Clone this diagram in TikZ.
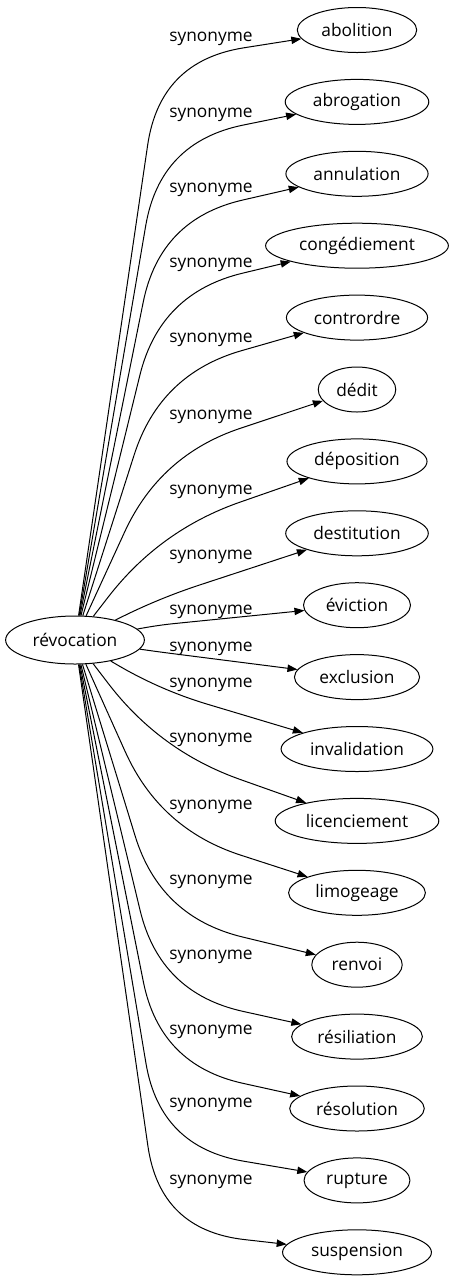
\documentclass[tikz,border=0pt]{standalone}
\usepackage{fontspec}
\setmainfont{Open Sans}
\usetikzlibrary{shapes.geometric,arrows.meta,calc}
\begin{document}
\begin{tikzpicture}[x=0.75pt,y=-0.75pt,
    word/.style={draw,ellipse,line width=0.75pt,inner xsep=5pt,inner ysep=1pt,
      minimum height=33.75pt,font=\fontsize{13pt}{15pt}\selectfont},
    rel/.style={inner sep=0pt,anchor=base,font=\fontsize{13pt}{15pt}\selectfont},
    syn/.style={line width=0.75pt,-{Triangle[length=7.5pt,width=5.5pt]}}]
\useasboundingbox (0,0) rectangle (451,1283);
\node[word,minimum height=36pt] (R) at (75,640) {révocation};
\foreach \w/\k/\ly [count=\i from 0] in {abolition/61/37, abrogation/142/113,
    annulation/219/188, congédiement/293/263, contrordre/374/338, dédit/455/415,
    déposition/530/490, destitution/598/555, éviction/625/610, exclusion/652/647,
    invalidation/690/683, licenciement/751/738, limogeage/829/805, renvoi/917/880,
    résiliation/993/955, résolution/1065/1030, rupture/1147/1103, suspension/1230/1180}
{
  \pgfmathsetmacro\ty{30+71.9*\i}
  \pgfmathsetlengthmacro\r{min(63.75pt,0.75pt*abs(\k-640))}
  \pgfmathsetlengthmacro\q{\r/3}
  \node[word] (S\i) at (357,\ty) {\w};
  \node[rel] (L\i) at (211,\ly+4.6) {synonyme};
  \coordinate (K\i) at (160,\k);
  \draw[syn] (R) -- ($(K\i)!\r!(R)$)
    .. controls ($(K\i)!\q!(R)$) and ($(K\i)!\q!(S\i)$) .. ($(K\i)!\r!(S\i)$) -- (S\i);
}
\end{tikzpicture}
\end{document}
